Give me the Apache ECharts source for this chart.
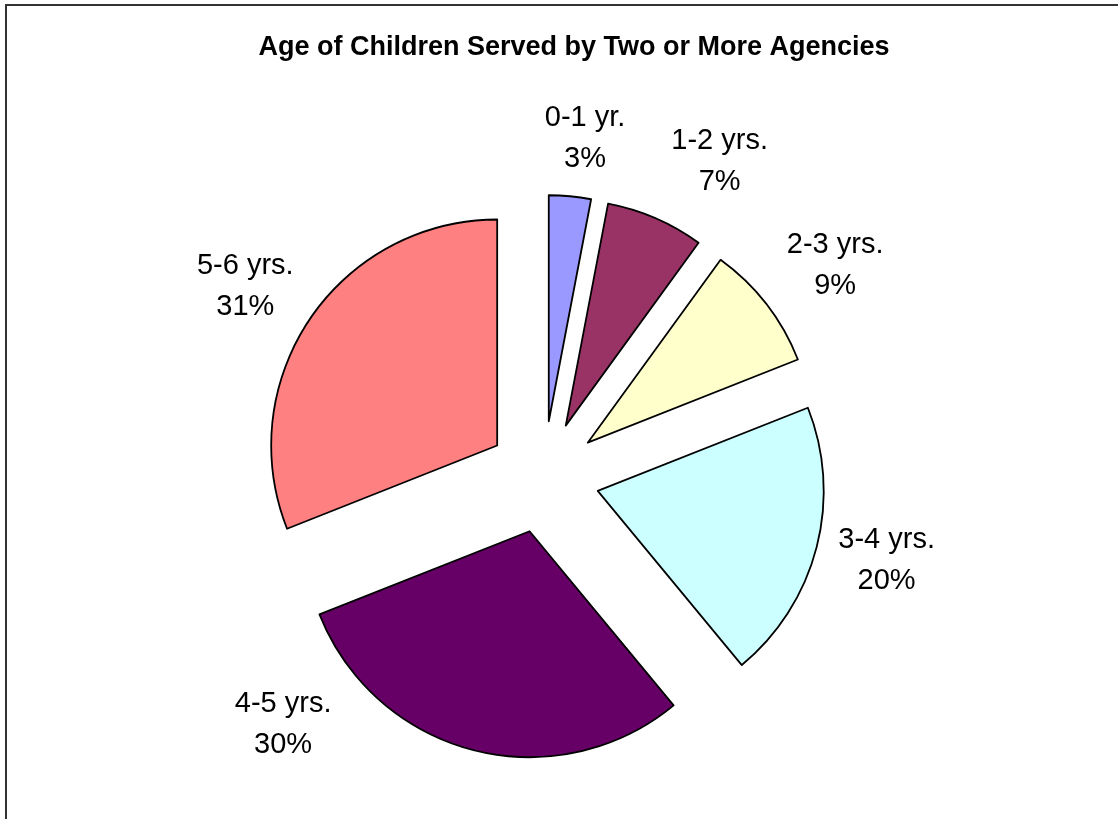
<!DOCTYPE html>
<html>
<head>
<meta charset="utf-8">
<script src="https://cdn.jsdelivr.net/npm/echarts@6/dist/echarts.min.js"></script>
<style>html,body{margin:0;padding:0;background:#fff}#c{width:1118px;height:819px}</style>
</head>
<body>
<div id="c"></div>
<script>
var categories = ['0-1 yr.', '1-2 yrs.', '2-3 yrs.', '3-4 yrs.', '4-5 yrs.', '5-6 yrs.'];
var percents = [3, 7, 9, 20, 30, 31];
var colors = ['#9999FF', '#993366', '#FFFFCC', '#CCFFFF', '#660066', '#FF8080'];

// label placement styling: radius from pie centre and angle tweak (deg)
var labelRadius = [341, 361, 360, 353, 359, 354];
var labelAngleShift = [1.6, 5.8, 1.9, -0.8, 32.1, -1.6];

var CX = 543.5, CY = 477, R = 226, OFFSET = 56;
var total = percents.reduce(function (a, b) { return a + b; }, 0);
var midAngles = [];
(function () {
  var acc = 0;
  for (var i = 0; i < percents.length; i++) {
    midAngles.push((acc + percents[i] / 2) / total * 360);
    acc += percents[i];
  }
})();

var FONT = 'Liberation Sans, Arial, sans-serif';
var chart = echarts.init(document.getElementById('c'));
chart.setOption({
  animation: false,
  backgroundColor: '#fff',
  title: {
    text: 'Age of Children Served by Two or More Agencies',
    left: 569, top: 29, textAlign: 'center',
    textStyle: { fontFamily: FONT, fontSize: 27, fontWeight: 'bold', color: '#000' }
  },
  graphic: [{
    type: 'rect', shape: { x: 6, y: 5, width: 1200, height: 900 },
    style: { fill: 'none', stroke: '#333', lineWidth: 2 }, silent: true
  }],
  series: [{
    type: 'pie',
    center: [CX, CY],
    radius: [0, R],
    startAngle: 90,
    clockwise: true,
    selectedMode: 'multiple',
    selectedOffset: OFFSET,
    itemStyle: { borderColor: '#000', borderWidth: 1.8 },
    select: { itemStyle: { borderColor: '#000', borderWidth: 1.8 } },
    emphasis: { disabled: true },
    label: { show: false },
    labelLine: { show: false },
    data: categories.map(function (c, i) {
      return { name: c, value: percents[i], selected: true, itemStyle: { color: colors[i] } };
    })
  }, {
    type: 'pie',
    center: [CX, CY],
    radius: [0, R],
    startAngle: 90,
    clockwise: true,
    silent: true,
    selectedMode: false,
    avoidLabelOverlap: false,
    itemStyle: { color: 'rgba(0,0,0,0)', borderWidth: 0 },
    emphasis: { disabled: true },
    label: {
      show: true, position: 'outside',
      formatter: function (p) { return p.name + '\n' + p.value + '%'; },
      fontFamily: FONT, fontSize: 29, lineHeight: 41, color: '#000'
    },
    labelLine: { show: false },
    labelLayout: function (p) {
      var i = p.dataIndex;
      var a = (midAngles[i] + labelAngleShift[i]) * Math.PI / 180;
      return {
        x: CX + labelRadius[i] * Math.sin(a),
        y: CY - labelRadius[i] * Math.cos(a),
        align: 'center', verticalAlign: 'middle'
      };
    },
    data: categories.map(function (c, i) {
      return { name: c, value: percents[i] };
    })
  }]
});
</script>
</body>
</html>
